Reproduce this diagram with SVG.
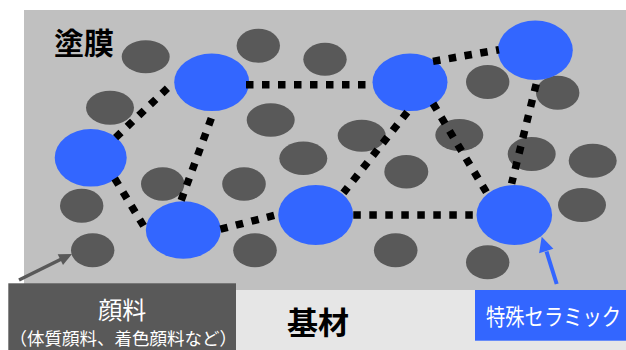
<svg xmlns="http://www.w3.org/2000/svg" width="626" height="350" viewBox="0 0 626 350">
<style>
.pig{fill:#595959}
.cer{fill:#3366FF}
.dot{stroke:#000;stroke-width:7.5;stroke-dasharray:7.5 8.5;fill:none}
.t{font-family:"Noto Sans CJK JP","Noto Sans",sans-serif}
.b{font-weight:bold;fill:#000}
.w{fill:#fff}
</style>
<rect width="626" height="350" fill="#fff"/>
<g id="coating"><rect x="24" y="10" width="602" height="280" fill="#C0C0C0"/></g>
<g id="substrate"><rect x="24" y="290" width="602" height="60" fill="#E6E6E6"/></g>
<g id="pigments">
<ellipse class="pig" cx="145.7" cy="56.7" rx="24" ry="16.5"/>
<ellipse class="pig" cx="258.3" cy="45.7" rx="21.7" ry="17"/>
<ellipse class="pig" cx="325" cy="59.3" rx="21.7" ry="16.5"/>
<ellipse class="pig" cx="110" cy="107.7" rx="24" ry="17"/>
<ellipse class="pig" cx="270.7" cy="120" rx="24" ry="16.7"/>
<ellipse class="pig" cx="303.3" cy="158.3" rx="24" ry="16.7"/>
<ellipse class="pig" cx="162.7" cy="184" rx="21.7" ry="16.7"/>
<ellipse class="pig" cx="244" cy="184" rx="21.8" ry="16.7"/>
<ellipse class="pig" cx="487.7" cy="82" rx="21.7" ry="17"/>
<ellipse class="pig" cx="557.7" cy="92.7" rx="21.7" ry="17"/>
<ellipse class="pig" cx="361.7" cy="135.7" rx="24" ry="16"/>
<ellipse class="pig" cx="459.3" cy="135" rx="24" ry="16"/>
<ellipse class="pig" cx="531.7" cy="154" rx="24" ry="17"/>
<ellipse class="pig" cx="592.7" cy="160.7" rx="24" ry="17"/>
<ellipse class="pig" cx="406.3" cy="171.7" rx="22" ry="16.7"/>
<ellipse class="pig" cx="81.7" cy="205.7" rx="21.7" ry="17"/>
<ellipse class="pig" cx="92.7" cy="250.3" rx="21.7" ry="17"/>
<ellipse class="pig" cx="255" cy="250.3" rx="21.8" ry="17"/>
<ellipse class="pig" cx="395.7" cy="250.3" rx="21.8" ry="17"/>
<ellipse class="pig" cx="487.7" cy="262.3" rx="21.7" ry="17"/>
<ellipse class="pig" cx="582" cy="205" rx="24" ry="17"/>
</g>
<g id="ceramics">
<g id="c1"><ellipse class="cer" cx="90.7" cy="157.8" rx="36" ry="28.8"/></g>
<g id="c2"><ellipse class="cer" cx="211.7" cy="82.3" rx="37.5" ry="28.8"/></g>
<g id="c3"><ellipse class="cer" cx="410" cy="82.3" rx="37.5" ry="28.8"/></g>
<g id="c4"><ellipse class="cer" cx="535.3" cy="50.3" rx="37.5" ry="29.7"/></g>
<g id="c5"><ellipse class="cer" cx="183.3" cy="230" rx="37.5" ry="28.8"/></g>
<g id="c6"><ellipse class="cer" cx="315.7" cy="215" rx="37.5" ry="30"/></g>
<g id="c7"><ellipse class="cer" cx="514.3" cy="215" rx="37.8" ry="30"/></g>
</g>
<g id="connectors">
<line class="dot" x1="115.6" y1="137.6" x2="169" y2="86.8"/>
<line class="dot" x1="211.3" y1="118.2" x2="181" y2="200.8"/>
<line class="dot" x1="246" y1="84.8" x2="366" y2="84.8"/>
<line class="dot" x1="433" y1="61.35" x2="499" y2="49.7"/>
<line class="dot" x1="407.3" y1="112.1" x2="343.4" y2="192.9"/>
<line class="dot" x1="433" y1="103.5" x2="487" y2="193.2"/>
<line class="dot" x1="536.2" y1="84.1" x2="511.6" y2="183.6"/>
<line class="dot" x1="114.7" y1="178.5" x2="143.6" y2="225.9"/>
<line class="dot" x1="220.4" y1="229.2" x2="275.3" y2="215.1"/>
<line class="dot" x1="353.3" y1="215" x2="473" y2="215"/>
<line x1="19" y1="280" x2="61" y2="259.3" stroke="#595959" stroke-width="3.5"/>
<polygon points="72,254 57.7,254.3 63,265.1" fill="#595959"/>
<line x1="556.7" y1="284" x2="546.5" y2="251.5" stroke="#3366FF" stroke-width="4"/>
<polygon points="541.7,236.7 553.4,248.7 539.1,253.3" fill="#3366FF"/>
</g>
<g id="label-coating"><text class="t b" x="54" y="54" font-size="30">塗膜</text></g>
<g id="label-substrate"><text class="t b" x="318" y="334" font-size="31" text-anchor="middle">基材</text></g>
<g id="label-pigment">
<rect x="8.3" y="283.3" width="227.7" height="66.7" fill="#595959"/>
<text class="t w" x="122.3" y="318.5" font-size="24" text-anchor="middle">顔料</text>
<text class="t w" x="123.3" y="345" font-size="17.5" text-anchor="middle">（体質顔料、着色顔料など）</text>
</g>
<g id="label-ceramic">
<rect x="475" y="290" width="151" height="50.7" fill="#3366FF"/>
<text class="t w" transform="translate(486 325) scale(0.84 1)" x="0" y="0" font-size="23">特殊セラミック</text>
</g>
</svg>
